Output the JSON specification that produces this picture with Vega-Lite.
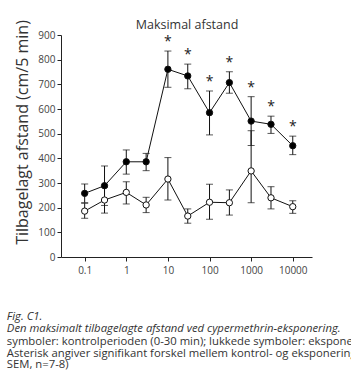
{
  "$schema": "https://vega.github.io/schema/vega-lite/v6.json",
  "width": 251,
  "height": 222,
  "autosize": {"type": "none"},
  "padding": {"left": 61, "top": 35, "right": 39, "bottom": 125},
  "background": "white",
  "config": {
    "font": "Open Sans",
    "view": {"stroke": null},
    "axis": {
      "grid": false,
      "domainColor": "#222",
      "tickColor": "#222",
      "labelColor": "#444",
      "labelFont": "Open Sans",
      "labelFontSize": 10,
      "tickSize": 4,
      "labelOverlap": false,
      "titleFont": "Open Sans",
      "titleFontWeight": "normal",
      "titleColor": "#333"
    }
  },
  "title": {
    "text": ["Fig. C1.", "Den maksimalt tilbagelagte afstand ved cypermethrin-eksponering."],
    "subtitle": ["symboler: kontrolperioden (0-30 min); lukkede symboler: eksponeringsperioden", "Asterisk angiver signifikant forskel mellem kontrol- og eksponeringsperioden", "SEM, n=7-8)"],
    "orient": "bottom",
    "anchor": "start",
    "frame": "bounds",
    "font": "Open Sans",
    "fontStyle": "italic",
    "fontWeight": "normal",
    "fontSize": 11.3,
    "subtitleFont": "Open Sans",
    "subtitleFontSize": 11.3,
    "color": "#333",
    "subtitleColor": "#333",
    "lineHeight": 11.7,
    "subtitleLineHeight": 11.7,
    "subtitlePadding": 2,
    "offset": 36,
    "dx": -8
  },
  "data": {
    "values": [
      {"dose": 0.1, "group": "eksponering", "mean": 258, "lo": 220, "hi": 296, "sig": ""},
      {"dose": 0.3, "group": "eksponering", "mean": 289, "lo": 209, "hi": 369, "sig": ""},
      {"dose": 1, "group": "eksponering", "mean": 386, "lo": 336, "hi": 434, "sig": ""},
      {"dose": 3, "group": "eksponering", "mean": 386, "lo": 350, "hi": 420, "sig": ""},
      {"dose": 10, "group": "eksponering", "mean": 761, "lo": 688, "hi": 835, "sig": "*"},
      {"dose": 30, "group": "eksponering", "mean": 734, "lo": 682, "hi": 782, "sig": "*"},
      {"dose": 100, "group": "eksponering", "mean": 585, "lo": 495, "hi": 673, "sig": "*"},
      {"dose": 300, "group": "eksponering", "mean": 707, "lo": 664, "hi": 751, "sig": "*"},
      {"dose": 1000, "group": "eksponering", "mean": 551, "lo": 452, "hi": 650, "sig": "*"},
      {"dose": 3000, "group": "eksponering", "mean": 538, "lo": 501, "hi": 571, "sig": "*"},
      {"dose": 10000, "group": "eksponering", "mean": 451, "lo": 415, "hi": 490, "sig": "*"},
      {"dose": 0.1, "group": "kontrol", "mean": 186, "lo": 157, "hi": 218, "sig": ""},
      {"dose": 0.3, "group": "kontrol", "mean": 231, "lo": 178, "hi": 284, "sig": ""},
      {"dose": 1, "group": "kontrol", "mean": 262, "lo": 215, "hi": 305, "sig": ""},
      {"dose": 3, "group": "kontrol", "mean": 211, "lo": 180, "hi": 242, "sig": ""},
      {"dose": 10, "group": "kontrol", "mean": 316, "lo": 231, "hi": 403, "sig": ""},
      {"dose": 30, "group": "kontrol", "mean": 166, "lo": 137, "hi": 195, "sig": ""},
      {"dose": 100, "group": "kontrol", "mean": 222, "lo": 153, "hi": 295, "sig": ""},
      {"dose": 300, "group": "kontrol", "mean": 220, "lo": 170, "hi": 272, "sig": ""},
      {"dose": 1000, "group": "kontrol", "mean": 349, "lo": 220, "hi": 512, "sig": ""},
      {"dose": 3000, "group": "kontrol", "mean": 240, "lo": 195, "hi": 285, "sig": ""},
      {"dose": 10000, "group": "kontrol", "mean": 204, "lo": 177, "hi": 228, "sig": ""}
    ]
  },
  "layer": [
    {
      "encoding": {
        "x": {
          "field": "dose",
          "type": "quantitative",
          "scale": {"type": "log", "domain": [0.027, 29000], "nice": false},
          "axis": {"title": null, "values": [0.1, 1, 10, 100, 1000, 10000], "format": "~g", "labelPadding": 4, "domainColor": "#222"}
        }
      },
      "layer": [
        {
          "mark": {"type": "errorbar", "ticks": {"size": 7, "color": "#111"}, "color": "#111", "thickness": 1},
          "encoding": {
            "y": {"field": "lo", "type": "quantitative", "scale": {"domain": [0, 900], "nice": false}, "axis": {"title": "Tilbagelagt afstand (cm/5 min)", "values": [0, 100, 200, 300, 400, 500, 600, 700, 800, 900], "tickCount": 10, "titleFontSize": 16, "titlePadding": 7, "titleY": 97}},
            "y2": {"field": "hi"},
            "detail": {"field": "group"}
          }
        },
        {
          "mark": {"type": "line", "color": "#111", "strokeWidth": 1},
          "encoding": {
            "y": {"field": "mean", "type": "quantitative", "scale": {"domain": [0, 900], "nice": false}, "axis": {"title": "Tilbagelagt afstand (cm/5 min)", "values": [0, 100, 200, 300, 400, 500, 600, 700, 800, 900], "tickCount": 10, "titleFontSize": 16, "titlePadding": 7, "titleY": 97}},
            "detail": {"field": "group"}
          }
        },
        {
          "mark": {"type": "point", "shape": "circle", "size": 40, "stroke": "#111", "strokeWidth": 1, "opacity": 1, "filled": false},
          "encoding": {
            "y": {"field": "mean", "type": "quantitative", "axis": {"title": "Tilbagelagt afstand (cm/5 min)", "values": [0, 100, 200, 300, 400, 500, 600, 700, 800, 900], "tickCount": 10, "titleFontSize": 16, "titlePadding": 7, "titleY": 97}},
            "fill": {"field": "group", "type": "nominal", "scale": {"domain": ["eksponering", "kontrol"], "range": ["#000000", "#ffffff"]}, "legend": null}
          }
        },
        {
          "mark": {"type": "text", "fontSize": 14, "dy": -5, "baseline": "alphabetic", "color": "#222"},
          "encoding": {
            "y": {"field": "hi", "type": "quantitative", "axis": {"title": "Tilbagelagt afstand (cm/5 min)", "values": [0, 100, 200, 300, 400, 500, 600, 700, 800, 900], "tickCount": 10, "titleFontSize": 16, "titlePadding": 7, "titleY": 97}},
            "text": {"field": "sig"}
          }
        }
      ]
    },
    {
      "mark": {"type": "point", "opacity": 0},
      "encoding": {
        "x": {
          "field": "dose",
          "type": "quantitative",
          "axis": {"orient": "top", "title": "Maksimal afstand", "labels": false, "ticks": false, "domain": false, "titleFontSize": 12.5, "titlePadding": 4, "titleColor": "#333"}
        }
      }
    }
  ],
  "resolve": {"axis": {"x": "independent"}}
}
